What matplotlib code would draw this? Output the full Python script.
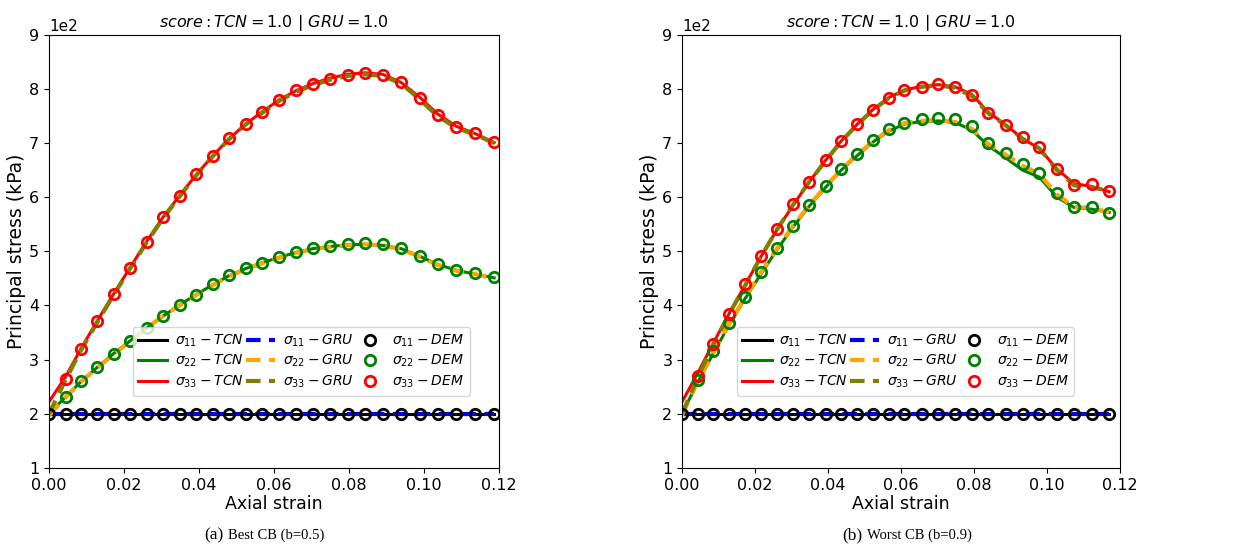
import matplotlib
matplotlib.use("Agg")
import matplotlib.pyplot as plt

# axial strain sample points (first point is 0)
strain_a = [0, 0.0044, 0.0085, 0.0129, 0.0172, 0.0217, 0.0260, 0.0303, 0.0348,
            0.0392, 0.0436, 0.0480, 0.0524, 0.0569, 0.0614, 0.0659, 0.0704,
            0.0749, 0.0796, 0.0843, 0.0890, 0.0939, 0.0988, 0.1036, 0.1086,
            0.1135, 0.1187]
strain_b = [0, 0.0043, 0.0086, 0.0129, 0.0173, 0.0216, 0.0260, 0.0304, 0.0348,
            0.0393, 0.0436, 0.0480, 0.0523, 0.0566, 0.0609, 0.0657, 0.0702,
            0.0748, 0.0794, 0.0839, 0.0888, 0.0933, 0.0979, 0.1027, 0.1074,
            0.1122, 0.1170]

# (a) best CB, stresses in kPa
dem22_a = [200, 231, 260, 286, 311, 335, 359, 381, 401, 420, 439, 457, 469, 479,
           490, 499, 506, 509, 513, 515, 513, 507, 492, 477, 465, 460, 452]
tcn22_a = [200, 231, 259, 286, 311, 335, 358, 380, 401, 420, 438, 455, 468, 479,
           489, 498, 505, 509, 512, 513, 511, 505, 491, 476, 465, 458, 451]
gru22_a = [197, 230, 259, 285, 310, 334, 358, 380, 400, 419, 437, 454, 467, 478,
           488, 497, 504, 508, 511, 513, 511, 504, 490, 475, 464, 458, 450]
dem33_a = [200, 265, 319, 371, 422, 470, 518, 563, 603, 642, 677, 709, 736, 757,
           780, 798, 809, 819, 826, 830, 826, 813, 783, 752, 730, 719, 702]
tcn33_a = [222, 268, 320, 372, 421, 471, 518, 562, 603, 641, 676, 708, 735, 758,
           780, 797, 810, 820, 827, 830, 827, 812, 785, 754, 731, 718, 701]
gru33_a = [200, 262, 317, 369, 419, 469, 516, 560, 601, 640, 675, 707, 734, 756,
           778, 795, 807, 817, 824, 827, 824, 810, 781, 750, 728, 716, 700]

# (b) worst CB
dem22_b = [200, 263, 315, 367, 416, 461, 506, 547, 586, 621, 652, 680, 705, 726,
           738, 744, 747, 744, 731, 700, 681, 661, 644, 607, 582, 582, 571]
tcn22_b = [200, 258, 312, 364, 413, 458, 503, 545, 583, 618, 650, 677, 702, 722,
           735, 740, 741, 738, 724, 695, 672, 650, 637, 600, 581, 578, 572]
gru22_b = [197, 260, 314, 366, 415, 461, 505, 547, 585, 620, 651, 679, 703, 724,
           737, 741, 743, 739, 726, 698, 678, 658, 643, 605, 582, 580, 572]
dem33_b = [200, 269, 329, 385, 439, 492, 541, 588, 629, 668, 703, 735, 761, 784,
           798, 804, 809, 803, 789, 755, 734, 711, 693, 652, 623, 624, 612]
tcn33_b = [222, 275, 331, 385, 438, 490, 540, 585, 628, 668, 704, 735, 762, 784,
           798, 805, 808, 804, 790, 757, 733, 708, 690, 652, 625, 620, 610]
gru33_b = [200, 267, 328, 384, 437, 490, 540, 586, 628, 667, 703, 734, 761, 783,
           797, 804, 807, 802, 787, 755, 732, 708, 690, 650, 622, 618, 612]

sigma11 = 200
captions = [("(a)", "Best CB (b=0.5)"), ("(b)", "Worst CB (b=0.9)")]


def draw(ax, x, d22, t22, g22, d33, t33, g33, legend_right):
    s11 = [sigma11] * len(x)
    ax.plot(x, s11, color="black", lw=2.2, label=r"$\sigma_{11}-TCN$")
    ax.plot(x, t22, color="green", lw=2.2, label=r"$\sigma_{22}-TCN$")
    ax.plot(x, t33, color="red", lw=2.2, label=r"$\sigma_{33}-TCN$")
    ax.plot(x, s11, color="blue", lw=3, ls=(0, (3.5, 2)), label=r"$\sigma_{11}-GRU$")
    ax.plot(x, g22, color="orange", lw=3, ls=(0, (3.5, 2)), label=r"$\sigma_{22}-GRU$")
    ax.plot(x, g33, color="olive", lw=3, ls=(0, (3.5, 2)), label=r"$\sigma_{33}-GRU$")
    mk = dict(ls="none", marker="o", ms=7.5, mew=2, mfc="none")
    ax.plot(x, s11, mec="black", label=r"$\sigma_{11}-DEM$", **mk)
    ax.plot(x[1:], d22[1:], mec="green", label=r"$\sigma_{22}-DEM$", **mk)
    ax.plot(x[1:], d33[1:], mec="red", label=r"$\sigma_{33}-DEM$", **mk)

    ax.set_xlim(0, 0.12)
    ax.set_ylim(100, 900)
    ax.set_xticks([0, 0.02, 0.04, 0.06, 0.08, 0.10, 0.12])
    ax.ticklabel_format(axis="y", style="sci", scilimits=(2, 2))
    ax.yaxis.get_offset_text().set_fontsize(11)
    ax.tick_params(labelsize=11.5)
    ax.set_xlabel("Axial strain", fontsize=12.5, labelpad=2)
    ax.set_ylabel("Principal stress (kPa)", fontsize=13.5, labelpad=2)
    ax.set_title(r"$score: TCN = 1.0\ |\ GRU = 1.0$", fontsize=11.5, pad=6)
    ax.legend(ncol=3, loc="lower right", bbox_to_anchor=(legend_right, 0.151),
              fontsize=10, numpoints=1, columnspacing=0.15, handletextpad=0.55,
              labelspacing=0.3, borderpad=0.4, handlelength=2.1)


fig = plt.figure(figsize=(12.57, 5.53), dpi=100)
ax1 = fig.add_axes([0.039, 0.154, 0.358, 0.783])
ax2 = fig.add_axes([0.5426, 0.154, 0.3485, 0.783])

draw(ax1, strain_a, dem22_a, tcn22_a, gru22_a, dem33_a, tcn33_a, gru33_a, 0.95)
draw(ax2, strain_b, dem22_b, tcn22_b, gru22_b, dem33_b, tcn33_b, gru33_b, 0.91)

for cx, (tag, cap) in zip([0.2085, 0.717], captions):
    fig.text(cx - 0.031, 0.025, tag, ha="right", family="Liberation Serif", fontsize=12.5)
    fig.text(cx - 0.027, 0.025, cap, ha="left", family="Liberation Serif", fontsize=10.5)

fig.savefig("out.png", dpi=100)
